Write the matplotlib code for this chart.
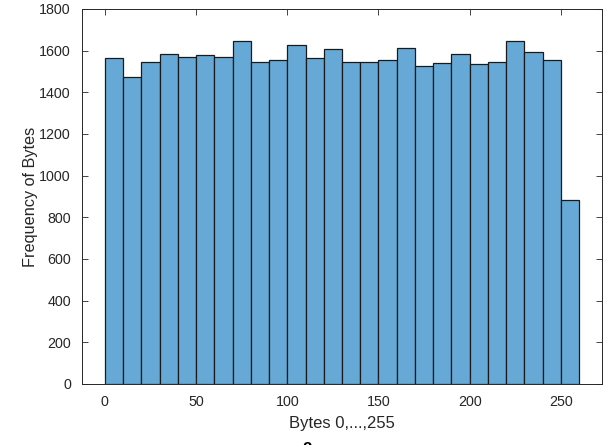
import numpy as np
import matplotlib
matplotlib.use("Agg")
import matplotlib.pyplot as plt

# bin edges 0..260, width 10
bin_edges = np.arange(0, 270, 10)
counts = [1563, 1474, 1547, 1584, 1568, 1579, 1568, 1646, 1547, 1557,
          1627, 1563, 1610, 1547, 1547, 1557, 1614, 1527, 1542, 1584,
          1538, 1547, 1646, 1594, 1557, 881]
xticks = [0, 50, 100, 150, 200, 250]
yticks = list(range(0, 2000, 200))

plt.rcParams['font.family'] = ['Liberation Sans', 'DejaVu Sans']

fig = plt.figure(figsize=(6.06, 4.45), dpi=100)
ax = fig.add_axes([0.1353, 0.1371, 0.8581, 0.8427])

ax.bar(bin_edges[:-1], counts, width=np.diff(bin_edges), align='edge',
       color='#66a9d6', edgecolor='#1a1a1a', linewidth=0.9)

ax.set_xlim(-12.5, 272.5)
ax.set_ylim(0, 1800)
ax.set_xticks(xticks)
ax.set_yticks(yticks)
ax.tick_params(direction='in', top=True, right=True, length=4,
               labelsize=10.3, colors='#262626', width=0.6)
ax.tick_params(axis='x', pad=8)
ax.tick_params(axis='y', pad=8)
for s in ax.spines.values():
    s.set_color('#262626')
    s.set_linewidth(0.7)

ax.set_xlabel("Bytes 0,...,255", fontsize=12, color='#262626', labelpad=5)
ax.set_ylabel("Frequency of Bytes", fontsize=11.7, color='#262626', labelpad=1)

# cut off text at the bottom edge
fig.text(307 / 606, 2.5 / 445, "2", ha='center', va='top', fontsize=12,
         fontweight='bold', color='black')

fig.savefig("out.png", dpi=100)
